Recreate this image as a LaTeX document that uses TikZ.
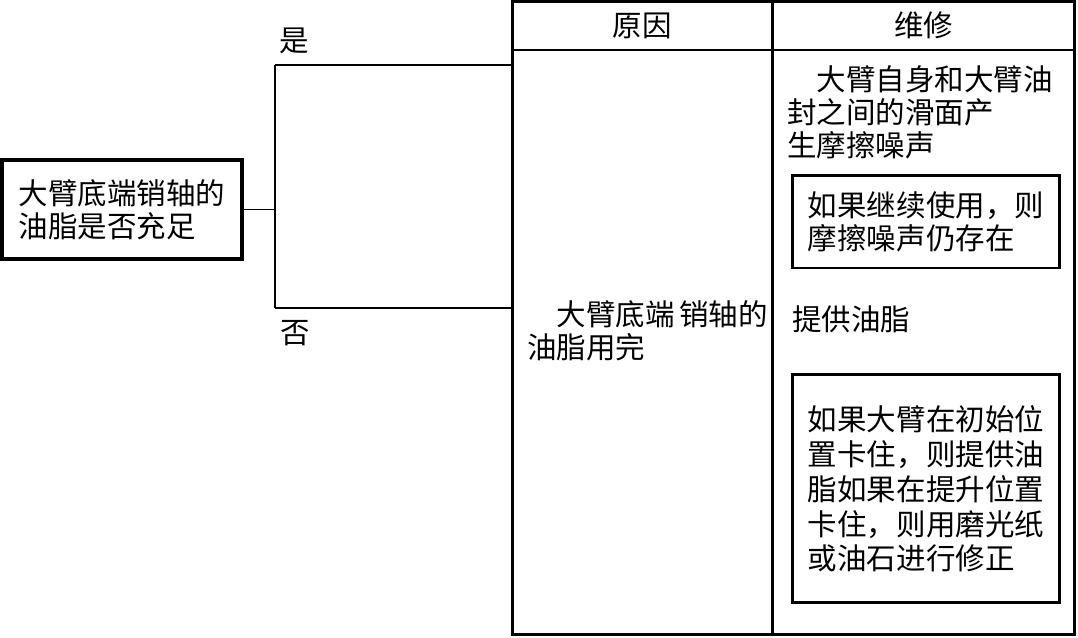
\documentclass[tikz,border=0pt]{standalone}
\usepackage{fontspec}
\setmainfont{Noto Sans CJK SC}

\begin{document}
\begin{tikzpicture}[x=0.02cm, y=-0.02cm, node distance=2cm, auto,
  cellbox/.style={draw, rectangle, line width=1.7pt, inner sep=0pt, font=\fontsize{16.8}{18.7}\selectfont},
  innerbox/.style={draw, rectangle, line width=1.7pt, align=left, minimum width=5.36cm, font=\fontsize{16.8}{18.7}\selectfont},
  plaintext/.style={inner sep=0pt, align=left, font=\fontsize{16.8}{18.7}\selectfont},
  branch/.style={line width=0.85pt}]
\useasboundingbox (0,0) rectangle (1078,637);

\node[draw, rectangle, line width=1.9pt, minimum width=4.8cm, minimum height=1.98cm, align=left, font=\fontsize{16.8}{18.7}\selectfont] (question) at (122,209.5) {大臂底端销轴的\\油脂是否充足};

\node[cellbox, minimum width=5.22cm, minimum height=0.97cm] (causehead) at (642.5,25.75) {原因};
\node[cellbox, minimum width=6.03cm, minimum height=0.97cm, right of=causehead, node distance=5.625cm] (repairhead) {维修};
\node[cellbox, minimum width=5.22cm, minimum height=11.69cm, below of=causehead, node distance=6.33cm] (causebody) {};
\node[cellbox, minimum width=6.03cm, minimum height=11.69cm, right of=causebody, node distance=5.625cm] (repairbody) {};

\node[plaintext] (yes) at (294,41) {是};
\node[plaintext] (no) at (295,333) {否};

\coordinate (fork) at (275,209.5);
\coordinate (yesjoin) at (275,65);
\coordinate (nojoin) at (275,308);
\draw[branch] (question.east) -- (fork);
\draw[branch] (yesjoin) -- (nojoin);
\draw[branch] (yesjoin) -- (yesjoin -| causebody.west);
\draw[branch] (nojoin) -- (nojoin -| causebody.west);

\node[plaintext, anchor=west] (causetext) at (527,331) {\hspace{1em}大臂底端\hspace{0.15em}销轴的\\油脂用完};

\node[plaintext, anchor=west] (noise) at (787,112.5) {\hspace{1em}大臂自身和大臂油\\封之间的滑面产\\生摩擦噪声};
\node[innerbox, minimum height=1.86cm] (keepuse) at (926,221.5) {如果继续使用，则\\摩擦噪声仍存在};
\node[plaintext, anchor=west] (supply) at (792,319) {提供油脂};
\node[innerbox, minimum height=4.56cm, font=\fontsize{16.8}{19.8}\selectfont, below of=keepuse, node distance=5.35cm] (stuck) {如果大臂在初始位\\置卡住，则提供油\\脂如果在提升位置\\卡住，则用磨光纸\\或油石进行修正};

\end{tikzpicture}
\end{document}
